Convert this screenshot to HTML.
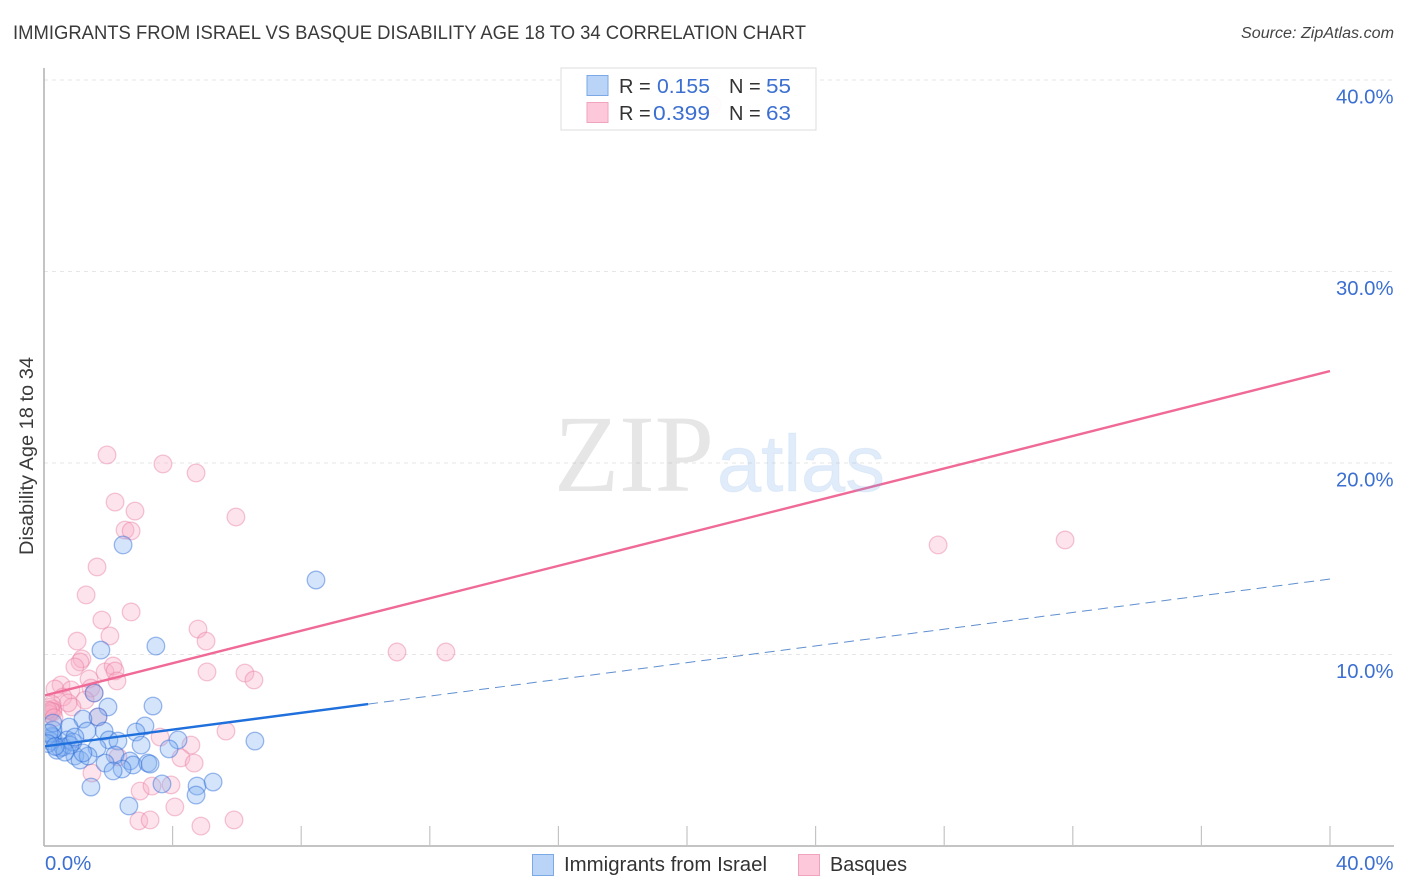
<!DOCTYPE html>
<html lang="en">
<head>
<meta charset="utf-8">
<title>Immigrants from Israel vs Basque Disability Age 18 to 34 Correlation Chart</title>
<style>
html,body{margin:0;padding:0;background:#fff;}
svg{display:block;font-family:"Liberation Sans",sans-serif;}
</style>
</head>
<body>
<svg id="chart" width="1406" height="892" viewBox="0 0 1406 892">
  <defs>
    <clipPath id="plot-clip"><rect x="45" y="60" width="1349" height="785"/></clipPath>
  </defs>
  <rect x="0" y="0" width="1406" height="892" fill="#fff"/>
  <text x="13" y="39" font-size="19.5" fill="#3a3a3a" textLength="793" lengthAdjust="spacingAndGlyphs">IMMIGRANTS FROM ISRAEL VS BASQUE DISABILITY AGE 18 TO 34 CORRELATION CHART</text>
  <text x="1394" y="38" font-size="15.5" font-style="italic" fill="#444" text-anchor="end" textLength="153" lengthAdjust="spacingAndGlyphs">Source: ZipAtlas.com</text>
  <g id="grid"></g>
  <g id="axes"></g>
  <g id="points" clip-path="url(#plot-clip)"></g>
  <g id="trends" clip-path="url(#plot-clip)"></g>
  <g>
    <text x="554" y="491" font-family="'Liberation Serif',serif" font-size="110" fill="rgba(150,150,150,.24)" textLength="160" lengthAdjust="spacingAndGlyphs">ZIP</text>
    <text x="717" y="491" font-family="'Liberation Sans',sans-serif" font-size="80" fill="rgba(120,170,230,.22)" stroke="rgba(120,170,230,.12)" stroke-width="1" textLength="168" lengthAdjust="spacingAndGlyphs">atlas</text>
  </g>
  <text transform="translate(33,456) rotate(-90)" font-size="19" fill="#3a3a3a" text-anchor="middle" textLength="198" lengthAdjust="spacingAndGlyphs">Disability Age 18 to 34</text>
  <g id="ylabels"></g>
  <g id="xlabels"></g>
  <g>
    <rect x="561" y="68" width="255" height="62" fill="rgba(255,255,255,.92)" stroke="#dcdcdc" stroke-width="1"/>
    <rect x="587" y="75.5" width="21" height="20" fill="#b9d4f7" stroke="#7aa9e6"/>
    <rect x="587" y="102.5" width="21" height="20" fill="#fdc9da" stroke="#f0a3bd"/>
    <g font-size="20" fill="#333">
      <text x="619" y="93">R =</text>
      <text x="657" y="93" fill="#3b6fd1" textLength="53" lengthAdjust="spacingAndGlyphs">0.155</text>
      <text x="729" y="93">N =</text>
      <text x="766" y="93" fill="#3b6fd1" textLength="25" lengthAdjust="spacingAndGlyphs">55</text>
      <text x="619" y="120">R =</text>
      <text x="653" y="120" fill="#3b6fd1" textLength="57" lengthAdjust="spacingAndGlyphs">0.399</text>
      <text x="729" y="120">N =</text>
      <text x="766" y="120" fill="#3b6fd1" textLength="25" lengthAdjust="spacingAndGlyphs">63</text>
    </g>
  </g>
  <g>
    <g>
      <rect x="532.5" y="854.5" width="21" height="21" fill="#b9d4f7" stroke="#7aa9e6"/>
      <text x="564" y="871" font-size="20" fill="#333" textLength="203" lengthAdjust="spacingAndGlyphs">Immigrants from Israel</text>
    </g>
    <g>
      <rect x="798.5" y="854.5" width="21" height="21" fill="#fdc9da" stroke="#f0a3bd"/>
      <text x="830" y="871" font-size="20" fill="#333" textLength="77" lengthAdjust="spacingAndGlyphs">Basques</text>
    </g>
  </g>
</svg>
<script>
var xTickValues = [4, 8, 12, 16, 20, 24, 28, 32, 36, 40];
var gridValues = [10, 20, 30, 40];
var yTickLabels = ['10.0%', '20.0%', '30.0%', '40.0%'];
var xTickLabels = ['0.0%', '40.0%'];

var israelX = [2.46,8.46,3.48,1.77,3.39,1.56,1.99,1.68,1.21,3.14,2.86,3.02,1.87,1.34,0.78,2.02,2.30,4.17,3.89,6.56,1.65,2.21,1.90,2.67,2.77,2.43,2.15,3.23,3.30,0.96,1.12,1.37,1.21,1.46,3.67,4.76,4.73,5.26,2.64,0.28,0.25,0.19,0.50,0.72,0.59,0.90,0.81,0.96,0.28,0.28,0.40,0.16,0.12,0.65,0.35];
var israelY = [15.72,13.89,10.44,10.23,7.31,7.99,7.26,6.74,6.63,6.27,5.95,5.27,6.00,6.00,6.21,5.54,5.48,5.54,5.07,5.48,5.12,4.75,4.33,4.44,4.23,4.02,3.92,4.33,4.28,4.70,4.49,4.70,4.86,3.08,3.24,3.13,2.66,3.34,2.09,5.69,5.74,5.48,5.12,5.54,5.17,5.43,5.27,5.69,6.06,6.42,5.00,5.90,5.35,4.90,5.20];
var basqueX = [20.78,1.96,3.70,4.73,5.97,2.21,2.83,2.52,2.71,1.65,1.31,2.71,1.80,4.79,2.05,1.03,5.04,10.98,12.50,27.81,31.76,1.18,1.12,0.96,1.90,2.15,2.21,2.27,5.07,6.25,6.53,1.40,1.46,1.56,0.53,0.34,0.84,1.28,0.59,0.87,0.75,0.28,0.19,0.28,0.25,0.16,0.22,0.12,0.31,1.68,5.66,3.61,4.57,4.26,4.67,2.30,1.49,2.99,3.36,3.95,4.07,2.95,3.30,4.88,5.91];
var basqueY = [38.70,20.42,19.95,19.48,17.18,17.96,17.49,16.50,16.45,14.57,13.11,12.22,11.80,11.33,10.97,10.70,10.70,10.13,10.13,15.72,15.98,9.77,9.61,9.35,9.09,9.40,9.14,8.62,9.09,9.03,8.67,8.72,8.25,7.99,8.41,8.20,8.15,7.62,7.78,7.26,7.47,7.15,7.25,7.00,7.40,6.90,7.05,7.10,6.70,6.74,6.00,5.69,5.27,4.60,4.33,4.65,3.81,2.87,3.13,3.19,2.04,1.31,1.36,1.04,1.36];

var israelTrendX = [0, 10.08];
var israelTrendY = [5.2, 7.41];
var israelDashX = [10.08, 40];
var israelDashY = [7.41, 13.94];
var basqueTrendX = [0, 40];
var basqueTrendY = [7.85, 24.8];

var NS = 'http://www.w3.org/2000/svg';
function sx(v) { return 44 + v * 32.15; }
function sy(v) { return 846 - v * 19.15; }
function make(tag, attrs, parent) {
  var el = document.createElementNS(NS, tag);
  for (var k in attrs) { el.setAttribute(k, attrs[k]); }
  parent.appendChild(el);
  return el;
}

var gridG = document.getElementById('grid');
gridValues.forEach(function (v) {
  var l = make('line', { x1: 44, x2: 1394, y1: sy(v), y2: sy(v), stroke: '#e6e6e6', 'stroke-width': 1, 'stroke-dasharray': '4 4' }, gridG);
  
  
});

var axesG = document.getElementById('axes');
var yAxisLine = make('line', { x1: 44, x2: 44, y1: 68, y2: 846, stroke: '#b0b0b0', 'stroke-width': 1.5 }, axesG);


var xAxisLine = make('line', { x1: 44, x2: 1394, y1: 846, y2: 846, stroke: '#b0b0b0', 'stroke-width': 1.5 }, axesG);


xTickValues.forEach(function (v) {
  var t = make('line', { x1: sx(v), x2: sx(v), y1: 826, y2: 846, stroke: '#c4c4c4', 'stroke-width': 1.2 }, axesG);
  
  
});

var ptsG = document.getElementById('points');
function drawPoints(xs, ys, fill, stroke, name) {
  xs.forEach(function (x, i) {
    var c = make('circle', { cx: sx(x), cy: sy(ys[i]), r: 8.8, fill: fill, stroke: stroke, 'stroke-width': 1.3 }, ptsG);
    
    
  });
}
drawPoints(basqueX, basqueY, 'rgba(250,170,195,.32)', 'rgba(232,120,160,.42)', 'basque-point');
drawPoints(israelX, israelY, 'rgba(130,175,240,.34)', 'rgba(40,105,215,.45)', 'israel-point');

var trendsG = document.getElementById('trends');
var basqueLine = make('line', { x1: sx(basqueTrendX[0]), y1: sy(basqueTrendY[0]), x2: sx(basqueTrendX[1]), y2: sy(basqueTrendY[1]), stroke: '#ef6a97', 'stroke-width': 2.4 }, trendsG);


var israelLine = make('line', { x1: sx(israelTrendX[0]), y1: sy(israelTrendY[0]), x2: sx(israelTrendX[1]), y2: sy(israelTrendY[1]), stroke: '#1f6fdc', 'stroke-width': 2.4 }, trendsG);


var israelDash = make('line', { x1: sx(israelDashX[0]), y1: sy(israelDashY[0]), x2: sx(israelDashX[1]), y2: sy(israelDashY[1]), stroke: '#5f8fd0', 'stroke-width': 1, 'stroke-dasharray': '10 6' }, trendsG);



var yLabG = document.getElementById('ylabels');
yTickLabels.forEach(function (s, i) {
  var t = make('text', { x: 1393.5, y: sy(gridValues[i]) + 23.5, 'font-size': 20.3, fill: '#3b6fd1', 'text-anchor': 'end' }, yLabG);
  t.textContent = s;
  
  
});
var xLabG = document.getElementById('xlabels');
var x0 = make('text', { x: 45, y: 870, 'font-size': 20.3, fill: '#3b6fd1' }, xLabG);
x0.textContent = xTickLabels[0];


var x1 = make('text', { x: 1393.5, y: 870, 'font-size': 20.3, fill: '#3b6fd1', 'text-anchor': 'end' }, xLabG);
x1.textContent = xTickLabels[1];


</script>
</body>
</html>
